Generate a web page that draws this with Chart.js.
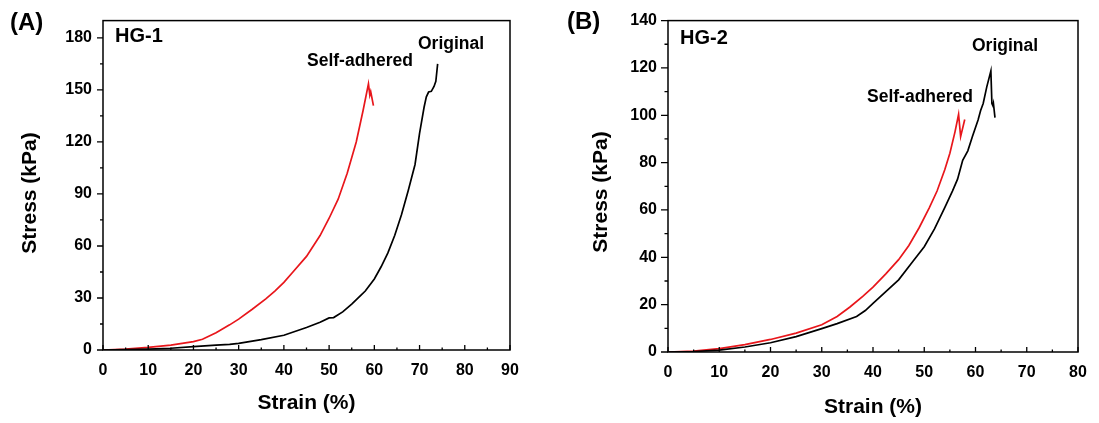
<!DOCTYPE html>
<html><head><meta charset="utf-8">
<script src="https://cdn.jsdelivr.net/npm/chart.js@4.4.1/dist/chart.umd.min.js"></script>
<style>
html,body{margin:0;padding:0;background:#fff;width:1099px;height:423px;overflow:hidden}
.wrap{position:absolute;top:0;height:423px}
#wa{left:0;width:550px}
#wb{left:550px;width:549px}
</style></head><body>
<div class="wrap" id="wa"><canvas id="ca" width="550" height="423"></canvas></div>
<div class="wrap" id="wb"><canvas id="cb" width="549" height="423"></canvas></div>
<script>
// ---- Data ----
const hg1SelfStrain = [0,5,10,15,20,22,25,28,30,33,36,38,40,42,45,48,50,52,54,56,57.5,58.7,59.0,59.2,59.8];
const hg1SelfStress = [0,0.5,1.5,2.8,4.8,6.2,10,14.5,17.8,23.5,29.5,34,39,45,54,66,76,87,102,120,138,153.5,147,149,141];
const hg1OrigStrain = [0,5,10,15,20,25,28,30,35,40,45,48,50,51,53,55,57,58,60,61.5,63,64.5,66,67.5,69,70,71,71.5,72,72.6,73.2,73.6,73.8,74];
const hg1OrigStress = [0,0.2,0.5,1.0,1.9,2.8,3.3,3.8,6,8.5,13,16,18.5,18.7,22,26.5,31.5,34,41,48,56,66,78,92,107,125,140,146,148.8,149.2,152,155,160,165];

const hg2SelfStrain = [0,5,10,15,20,25,30,33,35.5,38,40,42.5,45,47,49,51,52.5,54,55,56,56.7,57.1,57.9];
const hg2SelfStress = [0,0.4,1.4,3.1,5.3,8,11.5,15,19,23.5,27.4,33,39,45,52.5,61,68,77,84,93,100.4,91,98.2];
const hg2OrigStrain = [0,5,10,15,20,25,30,33,36.8,38.5,40,42.5,45,47.5,50,52,54,55.5,56.5,57.5,58.5,59.4,60.5,61,61.5,62.2,63,63.2,63.4,63.5,63.8];
const hg2OrigStress = [0,0.2,0.8,2.1,3.9,6.5,9.9,12,15,17.5,20.5,25.5,30.5,37.5,44.5,52,61,68,73,81,85,91,98,102,105,112,118.7,105,104,105,99];

const hg1XTicks = [0,10,20,30,40,50,60,70,80,90];
const hg1XMinor = [5,15,25,35,45,55,65,75,85];
const hg1YTicks = [0,30,60,90,120,150,180];
const hg1YMinor = [15,45,75,105,135,165];
const hg2XTicks = [0,10,20,30,40,50,60,70,80];
const hg2XMinor = [5,15,25,35,45,55,65,75];
const hg2YTicks = [0,20,40,60,80,100,120,140];
const hg2YMinor = [10,30,50,70,90,110,130];

const FONT = '"Liberation Sans", Arial, Helvetica, sans-serif';
const RED = '#e8161b';
const BLACK = '#000000';

function pts(xs, ys){ return xs.map((x,i)=>({x:x, y:ys[i]})); }

const decor = {
  id:'decor',
  afterDraw(chart, args, o){
    const ctx = chart.ctx, a = chart.chartArea, xs = chart.scales.x, ys = chart.scales.y;
    ctx.save();
    ctx.strokeStyle = '#000'; ctx.lineWidth = 1.5;
    ctx.strokeRect(a.left, a.top, a.right-a.left, a.bottom-a.top);
    ctx.lineWidth = 1.3;
    ctx.beginPath();
    o.yMajor.forEach(v=>{const y=ys.getPixelForValue(v); ctx.moveTo(a.left-o.yMajLen,y); ctx.lineTo(a.left,y);});
    o.yMinor.forEach(v=>{const y=ys.getPixelForValue(v); ctx.moveTo(a.left-o.yMinLen,y); ctx.lineTo(a.left,y);});
    o.xMajor.forEach(v=>{const x=xs.getPixelForValue(v); ctx.moveTo(x,a.bottom); ctx.lineTo(x,a.bottom-5);});
    o.xMinor.forEach(v=>{const x=xs.getPixelForValue(v); ctx.moveTo(x,a.bottom); ctx.lineTo(x,a.bottom-2.5);});
    ctx.stroke();
    ctx.fillStyle = '#000';
    ctx.textBaseline = 'middle';
    // axis titles
    ctx.font = 'bold 21px ' + FONT;
    ctx.textAlign = 'center';
    ctx.fillText(o.xTitle, (a.left+a.right)/2, o.xTitleY);
    ctx.save();
    ctx.translate(o.yTitleX, o.yTitleY);
    ctx.rotate(-Math.PI/2);
    ctx.fillText(o.yTitle, 0, 0);
    ctx.restore();
    // labels
    ctx.textAlign = 'left';
    o.texts.forEach(t=>{ ctx.font = 'bold ' + t.size + 'px ' + FONT; ctx.fillText(t.text, t.x, t.y); });
    ctx.restore();
  }
};

function makeChart(id, cfg){
  const tickFont = {family: FONT, size: 16, weight: 'bold'};
  return new Chart(document.getElementById(id), {
    type:'scatter',
    data:{datasets:[
      {data: pts(cfg.origX, cfg.origY), borderColor: BLACK, showLine:true, pointRadius:0, borderWidth:1.7, tension:0},
      {data: pts(cfg.selfX, cfg.selfY), borderColor: RED, showLine:true, pointRadius:0, borderWidth:1.7, tension:0}
    ]},
    options:{
      responsive:false, animation:false, devicePixelRatio:1,
      layout:{padding: cfg.pad},
      plugins:{legend:{display:false}, tooltip:{enabled:false}, decor: cfg.decor},
      scales:{
        x:{type:'linear', min:0, max:cfg.xMax,
           afterBuildTicks: s=>{ s.ticks = cfg.decor.xMajor.map(v=>({value:v})); },
           afterFit: s=>{ s.height = cfg.xH; },
           grid:{display:false, drawTicks:false}, border:{display:false},
           ticks:{padding:11, color:'#000', font:tickFont, maxRotation:0, autoSkip:false}},
        y:{type:'linear', min:0, max:cfg.yMax,
           afterBuildTicks: s=>{ s.ticks = cfg.decor.yMajor.map(v=>({value:v})); },
           afterFit: s=>{ s.width = cfg.yW; },
           grid:{display:false, drawTicks:false}, border:{display:false},
           ticks:{padding:11, color:'#000', font:tickFont, autoSkip:false}}
      }
    },
    plugins:[decor]
  });
}

makeChart('ca', {
  origX: hg1OrigStrain, origY: hg1OrigStress, selfX: hg1SelfStrain, selfY: hg1SelfStress,
  xMax: 90, yMax: 190, pad:{left:0, top:13, right:40, bottom:0}, xH:73, yW:103,
  decor:{xMajor: hg1XTicks, xMinor: hg1XMinor, yMajor: hg1YTicks, yMinor: hg1YMinor, yMajLen:6, yMinLen:3,
    xTitle:'Strain (%)', xTitleY:403, yTitle:'Stress (kPa)', yTitleX:30, yTitleY:193,
    texts:[{text:'(A)', size:24, x:10, y:23},{text:'HG-1', size:20, x:115, y:36},
           {text:'Self-adhered', size:17.5, x:307, y:61},{text:'Original', size:17.5, x:418, y:44}]}
});

makeChart('cb', {
  origX: hg2OrigStrain, origY: hg2OrigStress, selfX: hg2SelfStrain, selfY: hg2SelfStress,
  xMax: 80, yMax: 140, pad:{left:0, top:15, right:21, bottom:0}, xH:71, yW:118,
  decor:{xMajor: hg2XTicks, xMinor: hg2XMinor, yMajor: hg2YTicks, yMinor: hg2YMinor, yMajLen:7, yMinLen:3.5,
    xTitle:'Strain (%)', xTitleY:407, yTitle:'Stress (kPa)', yTitleX:51, yTitleY:192,
    texts:[{text:'(B)', size:24, x:17, y:22},{text:'HG-2', size:20, x:130, y:38},
           {text:'Self-adhered', size:17.5, x:317, y:97},{text:'Original', size:17.5, x:422, y:46}]}
});
</script>
</body></html>
